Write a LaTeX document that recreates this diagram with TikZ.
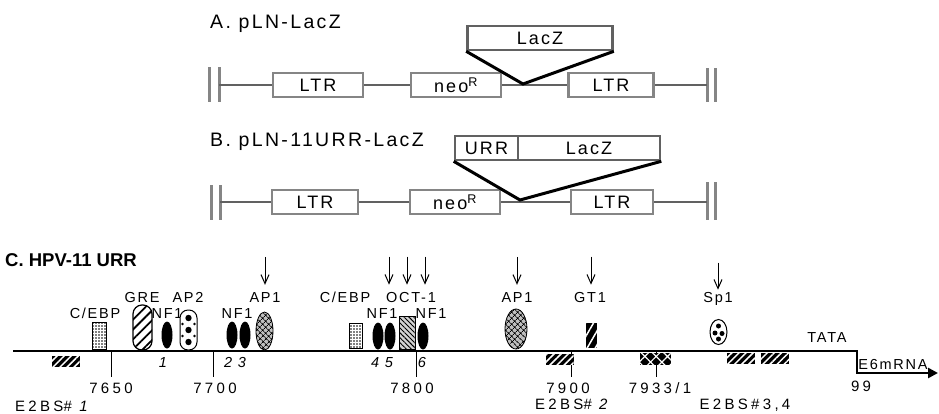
\documentclass[tikz,border=0pt]{standalone}
\usepackage{fontspec}
\setmainfont{Liberation Sans}
\newfontfamily\spacedsans[LetterSpace=12]{Liberation Sans}
\newfontfamily\widesans[LetterSpace=22]{Liberation Sans}
\usetikzlibrary{arrows.meta,positioning,patterns.meta,shapes.geometric}
\definecolor{Grain}{gray}{0.52}
\definecolor{GrainDark}{gray}{0.38}
\newcommand\boxfont{\spacedsans\fontsize{18}{20}\selectfont}
\newcommand\sitefont{\spacedsans\fontsize{14.5}{16}\selectfont}
\newcommand\mapfont{\widesans\fontsize{15}{18}\selectfont}
\newcommand\titlefont{\spacedsans\fontsize{19.5}{22}\selectfont}
\tikzset{
  part/.style={draw=Grain,line width=2.6pt,fill=white,minimum height=24pt,inner sep=0pt,font=\boxfont},
  insert/.style={part,draw=GrainDark},
  vec/.style={draw=GrainDark,line width=1.8pt},
  endbar/.style={draw=Grain,line width=3pt},
  vee/.style={line width=3pt},
  title/.style={anchor=base west,inner sep=0pt,font=\titlefont},
  sitelbl/.style={anchor=base,inner sep=1pt,font=\sitefont},
  mapno/.style={anchor=base,inner sep=0pt,font=\mapfont},
  hit/.style={-{Straight Barb[length=9pt,width=8pt]},line width=1pt},
  dna/.style={line width=2.5pt},
  tickline/.style={line width=1pt},
  nf/.style={ellipse,fill=black,inner sep=0pt,minimum width=11pt,minimum height=27pt},
  ap/.style={ellipse,draw,line width=0.8pt,inner sep=0pt,preaction={fill=gray!50},pattern={Hatch[angle=45,distance=4pt,line width=0.7pt]}},
  cebp/.style={draw,line width=0.6pt,inner sep=0pt,minimum width=14pt,minimum height=27pt,pattern={Dots[distance=3pt,radius=0.8pt]}},
  e2bs/.style={inner sep=0pt,minimum width=28pt,minimum height=11pt,preaction={fill=black},pattern={Lines[angle=45,distance=5pt,line width=1.5pt]},pattern color=white}
}
\begin{document}
\begin{tikzpicture}[x=1pt,y=-1pt]
\useasboundingbox (0,0) rectangle (939,413);

% A. pLN-LacZ
\node[title] (titleA) at (210,28) {A. pLN-LacZ};
\node[part,minimum width=90pt] (ltrA1) at (318,85) {LTR};
\node[part,minimum width=90pt] (neoA) at (456,85) {neo\textsuperscript{R}};
\node[part,minimum width=85pt] (ltrA2) at (611,85) {LTR};
\node[insert,minimum width=145pt] (lacA) at (540,38) {LacZ};
\coordinate (endA1) at (219,85);
\coordinate (endA2) at (707,85);
\coordinate (cutA) at (523,84);
\draw[endbar] (209,67) -- (209,102) (219,67) -- (219,102);
\draw[endbar] (707,68) -- (707,102) (715,68) -- (715,102);
\draw[vec] (endA1) -- (ltrA1) (ltrA1) -- (neoA) (neoA) -- (ltrA2) (ltrA2) -- (endA2);
\draw[vee] (lacA.south west) -- (cutA) -- (lacA.south east);

% B. pLN-11URR-LacZ
\node[title] (titleB) at (210,146) {B. pLN-11URR-LacZ};
\node[part,minimum width=86pt] (ltrB1) at (315,202) {LTR};
\node[part,minimum width=90pt] (neoB) at (455,202) {neo\textsuperscript{R}};
\node[part,minimum width=82pt] (ltrB2) at (612,202) {LTR};
\node[insert,minimum width=63pt] (urrB) at (486.5,148) {URR};
\node[insert,minimum width=142pt,right=-2.6pt of urrB] (lacB) {LacZ};
\coordinate (endB1) at (220,202);
\coordinate (endB2) at (707,202);
\coordinate (cutB) at (520,200);
\draw[endbar] (211,185) -- (211,220) (220,185) -- (220,220);
\draw[endbar] (707,182) -- (707,220) (715,182) -- (715,220);
\draw[vec] (endB1) -- (ltrB1) (ltrB1) -- (neoB) (neoB) -- (ltrB2) (ltrB2) -- (endB2);
\draw[vee] (urrB.south west) -- (cutB) -- (lacB.south east);

% C. HPV-11 URR
\node[anchor=base west,inner sep=0pt,font=\bfseries\fontsize{18.5}{21}\selectfont] (titleC) at (5,266) {C. HPV-11 URR};
\coordinate (dnaL) at (13,351);
\coordinate (tss) at (857,351);
\coordinate (tssdown) at (857,373);
\coordinate (mrnaend) at (938,373);
\draw[dna,-{Triangle[length=10pt,width=10pt]}] (dnaL) -- (tss) -- (tssdown) -- (mrnaend);

% map positions
\foreach \x/\name/\lx/\txt in {111/7650/111/7650,213/7700/215/7700,416/7800/412/7800,571/7900/568/7900,656/7933/660/{7933/1}}{
  \coordinate (t\name) at (\x,352);
  \draw[tickline] (t\name) -- ++(0,25);
  \node[mapno] (n\name) at (\lx,393) {\txt};
}
\node[mapno] (n99) at (861,391) {99};
\node[anchor=base west,inner sep=0pt,font=\mapfont] (e2bs1) at (15,411) {E2BS\textit{\# 1}};
\node[mapno] (e2bs2) at (573,409) {E2BS\textit{\# 2}};
\node[mapno] (e2bs34) at (745,409) {E2BS\#3,4};

% E2 binding sites below the line
\node[e2bs] (b1) at (65.5,361) {};
\node[e2bs] (b2) at (559.5,359) {};
\node[e2bs] (b3) at (741,358) {};
\node[e2bs] (b4) at (775,358) {};
\node[inner sep=0pt,minimum width=31pt,minimum height=12pt,preaction={fill=black},pattern={Hatch[angle=45,distance=8pt,line width=1.2pt]},pattern color=white] (b7933) at (655.5,359) {};

% lower labels
\node[sitelbl] (l-cebp1) at (95,318) {C/EBP};
\node[sitelbl] (l-nf1) at (167,318) {NF1};
\node[sitelbl] (l-nf23) at (237,318) {NF1};
\node[sitelbl] (l-nf45) at (382,318) {NF1};
\node[sitelbl] (l-nf6) at (431,318) {NF1};
% upper labels
\node[sitelbl] (l-gre) at (142,302) {GRE};
\node[sitelbl] (l-ap2) at (188,302) {AP2};
\node[sitelbl] (l-ap1a) at (265,302) {AP1};
\node[sitelbl] (l-cebp2) at (345,302) {C/EBP};
\node[sitelbl] (l-oct) at (411,302) {OCT-1};
\node[sitelbl] (l-ap1b) at (517,302) {AP1};
\node[sitelbl] (l-gt1) at (590,302) {GT1};
\node[sitelbl] (l-sp1) at (718,302) {Sp1};
\node[sitelbl] (l-tata) at (827,342) {TATA};
\node[sitelbl] (l-mrna) at (893,369) {E6mRNA};

% binding sites on the line
\node[cebp] (cebp1) at (99.5,336) {};
\node[draw,line width=1.2pt,inner sep=0pt,rounded corners=9pt,minimum width=19pt,minimum height=45pt,pattern={Lines[angle=45,distance=7pt,line width=1.8pt]}] (gre) at (142.5,327.5) {};
\node[nf] (nf1) at (167,335) {};
\node[draw,line width=1pt,fill=white,inner sep=0pt,rounded corners=8pt,minimum width=17pt,minimum height=40pt] (ap2) at (188.5,330) {};
\foreach \dy in {-12,0,12}
  \fill ([yshift=\dy pt]ap2.center) circle (3.2pt);
\foreach \dx in {-6,6}
  \foreach \dy in {-6,6}
    \fill ([xshift=\dx pt,yshift=\dy pt]ap2.center) circle (1.3pt);
\node[nf] (nf2) at (232,335) {};
\node[nf] (nf3) at (245,335) {};
\node[ap,minimum width=17pt,minimum height=38pt] (ap1a) at (264.5,331) {};
\node[cebp,minimum width=13pt,minimum height=25pt] (cebp2) at (355.5,336) {};
\node[nf] (nf4) at (378,336) {};
\node[nf] (nf5) at (390,336) {};
\node[draw,line width=0.8pt,inner sep=0pt,minimum width=16pt,minimum height=33pt,preaction={fill=gray!35},pattern={Lines[angle=-45,distance=3.5pt,line width=0.9pt]}] (oct) at (407,333) {};
\node[nf] (nf6) at (423,336) {};
\node[ap,minimum width=22pt,minimum height=40pt] (ap1b) at (516,329) {};
\node[inner sep=0pt,minimum width=11pt,minimum height=25pt,preaction={fill=black},pattern={Lines[angle=60,distance=7pt,line width=1.5pt]},pattern color=white] (gt1) at (591.5,335.5) {};
\node[ellipse,draw,line width=1pt,fill=white,inner sep=0pt,minimum width=17pt,minimum height=25pt] (sp1) at (718.5,332) {};
\foreach \dx/\dy in {0/6,-3.5/-1,3.5/-1.5,0/-7}
  \fill ([xshift=\dx pt,yshift=\dy pt]sp1.center) circle (2.5pt);

% NF1 site numbers
\node[sitelbl,font=\sitefont\itshape] (k1) at (163,367) {1};
\node[sitelbl,font=\sitefont\itshape] (k23) at (235,367) {2 3};
\node[sitelbl,font=\sitefont\itshape] (k45) at (382,367) {4 5};
\node[sitelbl,font=\sitefont\itshape] (k6) at (422,367) {6};

% mutated sites
\draw[hit] ([yshift=34pt]l-ap1a.north) -- ([yshift=6pt]l-ap1a.north);
\foreach \dx in {-22,-4,14}
  \draw[hit] ([xshift=\dx pt,yshift=34pt]l-oct.north) -- ([xshift=\dx pt,yshift=6pt]l-oct.north);
\draw[hit] ([yshift=34pt]l-ap1b.north) -- ([yshift=6pt]l-ap1b.north);
\draw[hit] ([xshift=1pt,yshift=34pt]l-gt1.north) -- ([xshift=1pt,yshift=6pt]l-gt1.north);
\draw[hit] ([yshift=28pt]l-sp1.north) -- ([yshift=1pt]l-sp1.north);
\end{tikzpicture}
\end{document}
